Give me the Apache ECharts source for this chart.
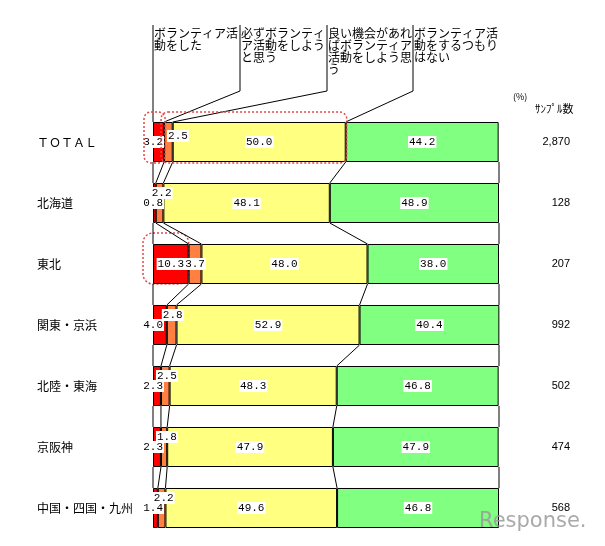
<!DOCTYPE html>
<html>
<head>
<meta charset="utf-8">
<script src="https://cdn.jsdelivr.net/npm/echarts@6/dist/echarts.min.js"></script>
<style>
html, body { margin: 0; padding: 0; background: #fff; }
#chart { width: 605px; height: 546px; }
</style>
</head>
<body>
<div id="chart"></div>
<script>
var regions = ['ＴＯＴＡＬ', '北海道', '東北', '関東・京浜', '北陸・東海', '京阪神', '中国・四国・九州'];
var didVolunteer = [3.2, 0.8, 10.3, 4.0, 2.3, 2.3, 1.4];   // ボランティア活動をした
var willSurely = [2.5, 2.2, 3.7, 2.8, 2.5, 1.8, 2.2];      // 必ずボランティア活動をしようと思う
var ifChance = [50.0, 48.1, 48.0, 52.9, 48.3, 47.9, 49.6]; // 良い機会があれば…
var noIntent = [44.2, 48.9, 38.0, 40.4, 46.8, 47.9, 46.8]; // するつもりはない
var sampleSizes = ['2,870', '128', '207', '992', '502', '474', '568'];
var headers = [
    'ボランティア活\n動をした',
    '必ずボランティ\nア活動をしよう\nと思う',
    '良い機会があれ\nばボランティア\n活動をしよう思\nう',
    'ボランティア活\n動をするつもり\nはない'
];

var BAR_GAP = 0.344;
var jp = '"Noto Sans CJK JP", sans-serif';
var numLabel = {
    show: true,
    fontFamily: '"Liberation Mono", monospace',
    fontSize: 11,
    color: '#000',
    backgroundColor: '#fff',
    padding: [1, 1, 0, 1],
    formatter: function (p) { return p.value.toFixed(1); }
};

// cumulative boundaries per row: 0, after red, after orange, after yellow, 100
var cum = regions.map(function (r, i) {
    var a = didVolunteer[i], b = a + willSurely[i], c = b + ifChance[i];
    return [0, a, b, c, 100];
});

var redData = didVolunteer.map(function (v, i) {
    return {
        value: v,
        label: i === 2 ? { position: 'inside' } : { position: [11, '50%'], align: 'right', verticalAlign: 'middle' }
    };
});
var orangeData = willSurely.map(function (v, i) {
    var lb;
    if (i === 2) lb = { position: 'inside' };
    else if (i === 0) lb = { position: [3, 14], align: 'left', verticalAlign: 'middle' };
    else lb = { position: [-5, 10], align: 'left', verticalAlign: 'middle' };
    return { value: v, label: lb };
});

function barSeries(name, data, color) {
    return {
        name: name,
        type: 'bar',
        stack: 'all',
        barCategoryGap: (BAR_GAP * 100) + '%',
        data: data,
        itemStyle: { color: color, borderColor: '#000', borderWidth: 1 },
        label: Object.assign({}, numLabel, { position: 'inside' })
    };
}

var chart = echarts.init(document.getElementById('chart'));
var option = {
    animation: false,
    grid: { left: 153, right: 106, top: 111.5, bottom: 7.5 },
    xAxis: { type: 'value', min: 0, max: 100, show: false },
    yAxis: [{
        type: 'category',
        data: regions,
        inverse: true,
        axisLine: { show: false },
        axisTick: { show: false },
        axisLabel: { margin: 116, align: 'left', fontFamily: jp, fontSize: 12, color: '#000' }
    }, {
        type: 'category',
        data: sampleSizes,
        inverse: true,
        position: 'right',
        axisLine: { show: false },
        axisTick: { show: false },
        axisLabel: { margin: 71, align: 'right', fontFamily: '"Liberation Sans", sans-serif', fontSize: 11, color: '#000' }
    }],
    series: [
        barSeries('ボランティア活動をした', redData, '#ff0000'),
        barSeries('必ずボランティア活動をしようと思う', orangeData, '#ff8040'),
        barSeries('良い機会があればボランティア活動をしよう思う', ifChance, '#ffff80'),
        barSeries('ボランティア活動をするつもりはない', noIntent, '#80ff80'),
        {
            // connector lines between adjacent bars
            type: 'custom',
            data: regions.slice(0, -1).map(function (r, i) { return [0, i]; }),
            encode: { x: 0, y: 1 },
            z: 5,
            renderItem: function (params, api) {
                var i = params.dataIndex;
                var band = api.size([0, 1])[1];
                var h = band * (1 - BAR_GAP);
                var children = [];
                for (var k = 0; k < 5; k++) {
                    var p1 = api.coord([cum[i][k], i]);
                    var p2 = api.coord([cum[i + 1][k], i + 1]);
                    children.push({
                        type: 'line',
                        shape: { x1: p1[0], y1: p1[1] + h / 2, x2: p2[0], y2: p2[1] - h / 2 },
                        style: { stroke: '#000', lineWidth: 1 }
                    });
                }
                return { type: 'group', children: children };
            }
        }
    ]
};
chart.setOption(option);

// annotations placed from the chart's own coordinates
function px(v, i) { return chart.convertToPixel({ gridIndex: 0 }, [v, i]); }
var band = px(0, 1)[1] - px(0, 0)[1];
var barH = band * (1 - BAR_GAP);
var top0 = px(0, 0)[1] - barH / 2;
var top2 = px(0, 2)[1] - barH / 2;
var x0 = px(0, 0)[0];
var headerX = [x0, 240, 327, 413];

var graphic = [];
headers.forEach(function (t, k) {
    var segX = px(cum[0][k], 0)[0];
    graphic.push({
        type: 'polyline',
        z: 60,
        shape: { points: [[headerX[k], 25], [headerX[k], 91], [segX, top0]] },
        style: { stroke: '#000', lineWidth: 1, fill: null }
    });
    graphic.push({
        type: 'text',
        z: 60,
        x: headerX[k] + 1,
        y: 27,
        style: { text: t, fontFamily: jp, fontSize: 12, lineHeight: 12, fill: '#000' }
    });
});

var dashed = { stroke: '#e04848', lineWidth: 1.5, lineDash: [2, 2], fill: null };
var c1x0 = px(cum[0][1], 0)[0];
var c3x0 = px(cum[0][3], 0)[0];
var c1x2 = px(cum[2][1], 2)[0];
graphic.push({
    type: 'rect', z: 60,
    shape: { x: x0 - 9, y: top0 - 10, width: c1x0 + 1 - (x0 - 9), height: barH + 11, r: 7 },
    style: dashed
});
graphic.push({
    type: 'rect', z: 60,
    shape: { x: c1x0 - 3, y: top0 - 10, width: c3x0 + 1 - (c1x0 - 3), height: barH + 11, r: 7 },
    style: dashed
});
graphic.push({
    type: 'rect', z: 0,
    shape: { x: x0 - 10, y: top2 - 11, width: c1x2 - (x0 - 10), height: barH + 11, r: 10 },
    style: dashed
});

graphic.push({
    type: 'text', x: 513, y: 97,
    style: { text: '(%)', fontFamily: jp, fontSize: 9, fill: '#000', verticalAlign: 'middle' }
});
graphic.push({
    type: 'text', x: 535, y: 109,
    style: { text: 'ｻﾝﾌﾟﾙ数', fontFamily: jp, fontSize: 11, fill: '#000', verticalAlign: 'middle' }
});
graphic.push({
    type: 'text', z: 100, x: 479, y: 522,
    style: { text: 'Response.', fontFamily: '"DejaVu Sans", sans-serif', fontSize: 21, fill: '#9a9a9a', opacity: 0.85, verticalAlign: 'middle' }
});

chart.setOption({ graphic: graphic });
window.onresize = chart.resize;
</script>
</body>
</html>
